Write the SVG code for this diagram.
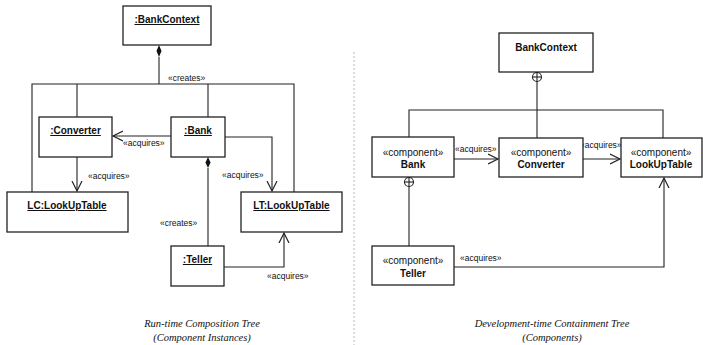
<svg xmlns="http://www.w3.org/2000/svg" width="703" height="345" viewBox="0 0 703 345">
<style>
.box{fill:#fff;stroke:#222;stroke-width:1.3}
.ln{fill:none;stroke:#222;stroke-width:1.1}
.nm{font-family:"Liberation Sans",Arial,sans-serif;font-size:10px;font-weight:bold;fill:#111;text-anchor:middle}
.u{text-decoration:underline}
.st{font-family:"Liberation Sans",Arial,sans-serif;font-size:10px;fill:#111;text-anchor:middle}
.lb{font-family:"Liberation Sans",Arial,sans-serif;font-size:8.5px;fill:#111}
.cap{font-family:"Liberation Serif","Times New Roman",serif;font-size:10.5px;font-style:italic;fill:#111;text-anchor:middle}
</style>
<defs>
<marker id="open" markerUnits="userSpaceOnUse" markerWidth="12" markerHeight="12" refX="10" refY="5" orient="auto" viewBox="0 0 12 10">
<path d="M0,0 L10,5 L0,10" fill="none" stroke="#222" stroke-width="1.2"/>
</marker>
</defs>
<rect width="703" height="345" fill="#fff"/>
<line x1="354" y1="52" x2="354" y2="345" stroke="#bbb" stroke-width="1" stroke-dasharray="2,2"/>

<g id="connectors">
<!-- left diagram -->
<line class="ln" x1="159" y1="57" x2="159" y2="84"/>
<polygon points="159,45 161.5,51 159,57 156.5,51" fill="#111"/>
<polyline class="ln" points="32,192 32,84 294,84 294,192"/>
<line class="ln" x1="77" y1="84" x2="77" y2="117"/>
<line class="ln" x1="208" y1="84" x2="208" y2="117"/>
<line class="ln" x1="171" y1="136" x2="113" y2="136" marker-end="url(#open)"/>
<line class="ln" x1="77" y1="157" x2="77" y2="191" marker-end="url(#open)"/>
<polyline class="ln" points="225,137 272,137 272,191" marker-end="url(#open)"/>
<polygon points="208,157 210.5,162.5 208,168 205.5,162.5" fill="#111"/>
<line class="ln" x1="208" y1="168" x2="208" y2="246"/>
<polyline class="ln" points="224,267 284,267 284,233" marker-end="url(#open)"/>
<text class="lb" x="168" y="81">«creates»</text>
<text class="lb" x="123" y="146">«acquires»</text>
<text class="lb" x="88" y="179">«acquires»</text>
<text class="lb" x="222" y="178">«acquires»</text>
<text class="lb" x="160" y="226">«creates»</text>
<text class="lb" x="267" y="279">«acquires»</text>
<!-- right diagram -->
<circle cx="537" cy="77" r="4.5" fill="#fff" stroke="#222" stroke-width="1.1"/>
<line class="ln" x1="532.5" y1="77" x2="541.5" y2="77"/>
<line class="ln" x1="537" y1="72" x2="537" y2="138"/>
<polyline class="ln" points="409,137 409,110 663,110 663,138"/>
<line class="ln" x1="454" y1="159" x2="498" y2="159" marker-end="url(#open)"/>
<line class="ln" x1="583" y1="159" x2="620" y2="159" marker-end="url(#open)"/>
<circle cx="409" cy="182" r="4.5" fill="#fff" stroke="#222" stroke-width="1.1"/>
<line class="ln" x1="404.5" y1="182" x2="413.5" y2="182"/>
<line class="ln" x1="409" y1="177" x2="409" y2="246"/>
<polyline class="ln" points="454,267 664,267 664,178" marker-end="url(#open)"/>
<text class="lb" x="455" y="152">«acquires»</text>
<text class="lb" x="580" y="148">«acquires»</text>
<text class="lb" x="460" y="261">«acquires»</text>
</g>

<g id="l-bankcontext">
<rect class="box" x="123" y="6" width="88" height="39"/>
<text class="nm u" x="167" y="23">:BankContext</text>
</g>
<g id="l-converter">
<rect class="box" x="39" y="117" width="73" height="40"/>
<text class="nm u" x="75.5" y="134">:Converter</text>
</g>
<g id="l-bank">
<rect class="box" x="171" y="117" width="54" height="40"/>
<text class="nm u" x="198" y="134">:Bank</text>
</g>
<g id="l-lc">
<rect class="box" x="7" y="192" width="121" height="40"/>
<text class="nm u" x="67" y="209">LC:LookUpTable</text>
</g>
<g id="l-lt">
<rect class="box" x="241" y="192" width="101" height="40"/>
<text class="nm u" x="291.5" y="209">LT:LookUpTable</text>
</g>
<g id="l-teller">
<rect class="box" x="171" y="246" width="53" height="40"/>
<text class="nm u" x="197.5" y="263">:Teller</text>
</g>

<g id="r-bankcontext">
<rect class="box" x="499" y="33" width="94" height="39"/>
<text class="nm" x="546" y="51">BankContext</text>
</g>
<g id="r-bank">
<rect class="box" x="372" y="137" width="82" height="40"/>
<text class="st" x="413" y="156">«component»</text>
<text class="nm" x="413" y="168">Bank</text>
</g>
<g id="r-converter">
<rect class="box" x="499" y="138" width="84" height="39"/>
<text class="st" x="541" y="156">«component»</text>
<text class="nm" x="541" y="168">Converter</text>
</g>
<g id="r-lookuptable">
<rect class="box" x="621" y="138" width="81" height="39"/>
<text class="st" x="661" y="156">«component»</text>
<text class="nm" x="661" y="168">LookUpTable</text>
</g>
<g id="r-teller">
<rect class="box" x="372" y="246" width="82" height="39"/>
<text class="st" x="413" y="264">«component»</text>
<text class="nm" x="413" y="277">Teller</text>
</g>

<text class="cap" x="202" y="327">Run-time Composition Tree</text>
<text class="cap" x="202" y="341">(Component Instances)</text>
<text class="cap" x="552" y="327">Development-time Containment Tree</text>
<text class="cap" x="552" y="341">(Components)</text>
</svg>
